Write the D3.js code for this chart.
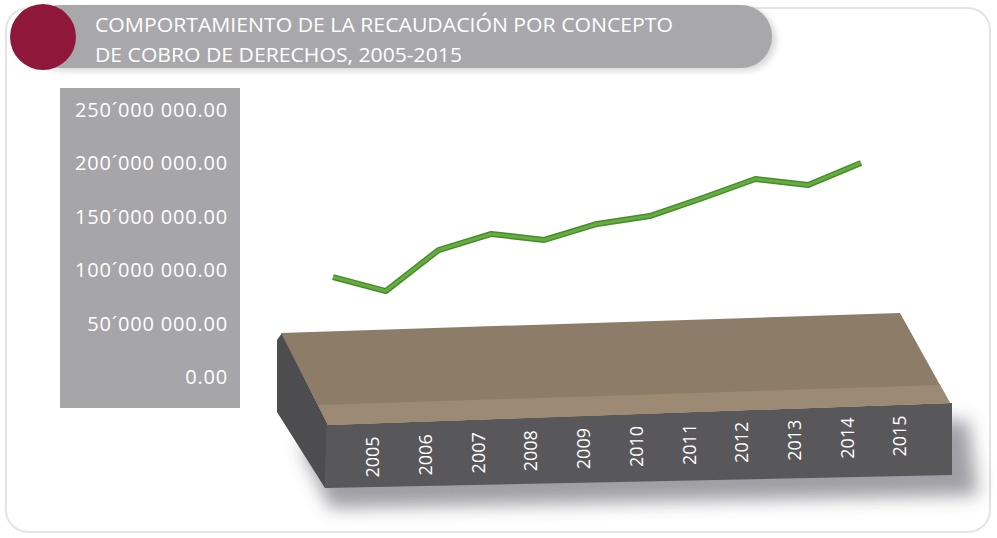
<!DOCTYPE html>
<html>
<head>
    <meta charset="utf-8">
    <title>Recaudación por derechos</title>
    <script src="https://d3js.org/d3.v7.min.js" charSet="utf-8"></script>
    <style>
        body { margin: 0; background: #ffffff; }

        /* tick labels on the grey panel */
        .axis text {
            font-family: "Open Sans", sans-serif;
            font-size: 20px;
            letter-spacing: 0.8px;
            fill: #ffffff;
        }
        .axis path, .axis line { display: none; }

        .year-label {
            font-family: "Open Sans", sans-serif;
            font-size: 18px;
            fill: #ffffff;
        }

        .title {
            font-family: "Open Sans", sans-serif;
            font-size: 20px;
            fill: #ffffff;
        }
    </style>
</head>
<body>
<div id="vis_container"></div>
<script>
    // years shown on the slab
    let years = [2005, 2006, 2007, 2008, 2009, 2010, 2011, 2012, 2013, 2014, 2015];

    let recaudacion = [93.6e6, 80.5e6, 118.9e6, 133.9e6, 128.3e6, 143.3e6,
                       150.7e6, 167.6e6, 185.4e6, 179.8e6, 200.4e6];

    let yTicks = [0, 50e6, 100e6, 150e6, 200e6, 250e6];

    let titleLines = ["COMPORTAMIENTO DE LA RECAUDACIÓN POR CONCEPTO",
                      "DE COBRO DE DERECHOS, 2005-2015"];

    let width = 997, height = 538;

    let svg = d3.select("#vis_container")
        .append("svg")
        .attr("width", width)
        .attr("height", height);

    let defs = svg.append("defs");
    defs.append("filter").attr("id", "blur8")
        .attr("x", "-20%").attr("y", "-50%").attr("width", "140%").attr("height", "200%")
        .append("feGaussianBlur").attr("stdDeviation", 9);
    defs.append("filter").attr("id", "blur3")
        .attr("x", "-20%").attr("y", "-50%").attr("width", "140%").attr("height", "200%")
        .append("feGaussianBlur").attr("stdDeviation", 3);

    // soft card behind everything
    svg.append("rect")
        .attr("x", 6).attr("y", 8)
        .attr("width", 984).attr("height", 524)
        .attr("rx", 22)
        .attr("fill", "#ffffff")
        .attr("stroke", "#e4e4e6")
        .attr("stroke-width", 2);

    // ---- title bar ----
    svg.append("rect")
        .attr("x", 34).attr("y", 8)
        .attr("width", 742).attr("height", 63)
        .attr("rx", 31)
        .attr("fill", "#d8d8da")
        .attr("filter", "url(#blur3)");

    svg.append("rect")
        .attr("x", 30).attr("y", 5)
        .attr("width", 742).attr("height", 63)
        .attr("rx", 31)
        .attr("fill", "#a8a8aa");

    svg.append("circle")
        .attr("cx", 43).attr("cy", 37).attr("r", 33)
        .attr("fill", "#8e173a");

    svg.selectAll(".title")
        .data(titleLines)
        .enter()
        .append("text")
        .attr("class", "title")
        .attr("x", 95)
        .attr("y", function(d, i) { return 32 + i * 30; })
        .attr("textLength", function(d, i) { return i == 0 ? 578 : 367; })
        .attr("lengthAdjust", "spacingAndGlyphs")
        .text(function(d) { return d; });

    // ---- y axis on its grey panel ----
    let y = d3.scaleLinear()
        .domain([0, 250e6])
        .range([377, 110]);

    svg.append("rect")
        .attr("x", 60).attr("y", 88)
        .attr("width", 180).attr("height", 320)
        .attr("fill", "#a6a6a8");

    function formatTick(v) {
        if (v == 0) return "0.00";
        let parts = d3.format(",.2f")(v).split(",");
        return parts[0] + "\u00B4" + parts.slice(1).join(" ");
    }

    svg.append("g")
        .attr("class", "axis")
        .attr("transform", "translate(240,0)")
        .call(d3.axisLeft(y).tickValues(yTicks).tickSize(0).tickPadding(12).tickFormat(formatTick));

    // ---- the slab the years sit on ----
    let slab = svg.append("g");

    // shadow
    slab.append("polygon")
        .attr("points", "300,445 968,420 978,495 330,508")
        .attr("fill", "#3c3c48")
        .attr("opacity", 0.5)
        .attr("filter", "url(#blur8)");

    // left end
    slab.append("polygon")
        .attr("points", "277,340 282,333 328,425 325,488 277,412")
        .attr("fill", "#4d4d50");
    // front face
    slab.append("polygon")
        .attr("points", "326,425 952,403 952,475 325,488")
        .attr("fill", "#58585b");
    // top face
    slab.append("polygon")
        .attr("points", "281,333 900,313 950,403 328,425")
        .attr("fill", "#8d7c68");
    // light bevel along the front edge
    slab.append("polygon")
        .attr("points", "318,405 940,385 950,403 328,425")
        .attr("fill", "#9c8a74");

    let xLabel = d3.scalePoint()
        .domain(years)
        .range([373, 900]);

    // labels follow the slope of the front face
    let yLabel = d3.scaleLinear()
        .domain([years[0], years[years.length - 1]])
        .range([457, 436]);

    svg.selectAll(".year-label")
        .data(years)
        .enter()
        .append("text")
        .attr("class", "year-label")
        .attr("transform", function(d) {
            return "translate(" + xLabel(d) + "," + yLabel(d) + ") rotate(-90)";
        })
        .attr("text-anchor", "middle")
        .attr("dy", "0.35em")
        .text(function(d) { return d; });

    // ---- the green line ----
    let xLine = d3.scalePoint()
        .domain(years)
        .range([333, 861]);

    let points = years.map(function(d, i) { return [d, recaudacion[i]]; });

    let line = d3.line()
        .x(function(d) { return xLine(d[0]); })
        .y(function(d) { return y(d[1]); });

    svg.append("path")
        .datum(points)
        .attr("d", line)
        .attr("fill", "none")
        .attr("stroke", "#4a8a2d")
        .attr("stroke-width", 6)
        .attr("stroke-linejoin", "round");

    svg.append("path")
        .datum(points)
        .attr("d", line)
        .attr("fill", "none")
        .attr("stroke", "#64ae40")
        .attr("stroke-width", 3)
        .attr("stroke-linejoin", "round");
</script>
</body>
</html>
